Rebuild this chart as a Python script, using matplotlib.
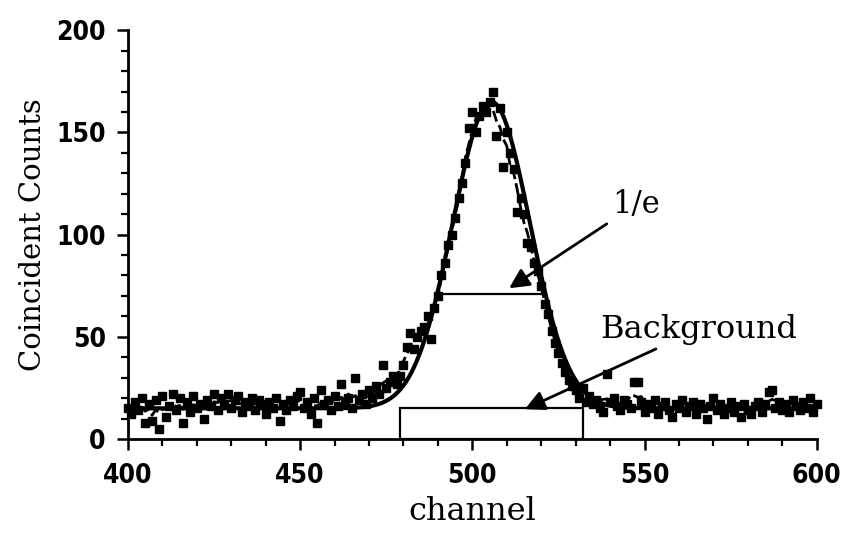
import numpy as np
import pandas as pd
import matplotlib
matplotlib.use('Agg')
import matplotlib.pyplot as plt
from matplotlib.patches import Rectangle

# channels 400..600, one reading per channel
channels = np.arange(400, 601)
counts = [
    15, 12, 18, 14, 20, 8, 17, 9, 19, 5,          # 400-409
    21, 11, 16, 22, 14, 20, 8, 18, 13, 21,        # 410-419
    15, 17, 10, 19, 16, 22, 14, 20, 17, 22,       # 420-429
    15, 19, 21, 13, 18, 16, 20, 14, 19, 17,       # 430-439
    12, 18, 15, 20, 9, 17, 14, 19, 16, 21,        # 440-449
    23, 15, 18, 12, 20, 8, 24, 17, 19, 14,        # 450-459
    21, 16, 27, 18, 20, 15, 30, 19, 22, 17,       # 460-469
    24, 20, 26, 22, 36, 25, 28, 31, 27, 31,       # 470-479
    36, 45, 52, 44, 50, 53, 55, 60, 49, 64,       # 480-489
    70, 80, 86, 95, 100, 108, 118, 125, 135, 152, # 490-499
    160, 150, 158, 163, 160, 165, 170, 148, 162, 133,  # 500-509
    150, 140, 132, 111, 118, 110, 96, 94, 86, 82, # 510-519
    75, 66, 61, 53, 47, 42, 37, 33, 29, 26,       # 520-529
    24, 20, 25, 18, 21, 17, 19, 15, 13, 32,       # 530-539
    18, 20, 16, 14, 19, 17, 15, 28, 28, 18,       # 540-549
    13, 17, 15, 19, 12, 16, 18, 14, 11, 17,       # 550-559
    15, 19, 13, 16, 18, 12, 17, 15, 10, 16,       # 560-569
    20, 14, 17, 12, 15, 18, 13, 16, 11, 17,       # 570-579
    14, 12, 16, 18, 13, 17, 23, 24, 15, 18,       # 580-589
    14, 17, 13, 19, 16, 14, 18, 15, 20, 13,       # 590-599
    17,                                           # 600
]

# gaussian fit parameters
fit_center = 505.5
fit_sigma = 11.2
fit_amp = 150
fit_bg = 15

# annotation geometry
bg_box = (479, 532, 15)          # left, right, level
efold_line = (489.5, 521.5, 71)  # left, right, level

data = pd.DataFrame({'channel': channels, 'counts': counts})
data['smooth'] = data['counts'].rolling(5, center=True, min_periods=1).mean()

xfit = np.linspace(400, 600, 801)
yfit = fit_bg + fit_amp * np.exp(-(xfit - fit_center) ** 2 / (2 * fit_sigma ** 2))

fig = plt.figure(figsize=(8.42, 5.39), dpi=100)
ax = fig.add_axes([0.152, 0.1855, 0.818, 0.7585])

ax.plot(data['channel'], data['counts'], 's', color='black', ms=6, clip_on=False)
ax.plot(data['channel'], data['smooth'], color='black', lw=2, dashes=(4, 1.5))
ax.plot(xfit, yfit, color='black', lw=3)

ax.add_patch(Rectangle((bg_box[0], 0), bg_box[1] - bg_box[0], bg_box[2],
                       fill=False, edgecolor='black', lw=1.6))
ax.plot([efold_line[0], efold_line[1]], [efold_line[2], efold_line[2]], color='black', lw=1.6)

serif = 'DejaVu Serif'
arrow = dict(arrowstyle='-|>', color='black', lw=2, mutation_scale=30)
ax.annotate('1/e', xy=(510, 73), xytext=(540.5, 107), arrowprops=arrow,
            family=serif, fontsize=22, va='bottom', ha='left')
ax.annotate('Background', xy=(514.5, 14), xytext=(537, 46), arrowprops=arrow,
            family=serif, fontsize=23, va='bottom', ha='left')

ax.set_xlim(400, 600)
ax.set_ylim(0, 200)
ax.set_xticks([400, 450, 500, 550, 600])
ax.set_xticks(np.arange(400, 601, 10), minor=True)
ax.set_yticks([0, 50, 100, 150, 200])
ax.set_yticks(np.arange(0, 201, 10), minor=True)

for s in ['top', 'right']:
    ax.spines[s].set_visible(False)
for s in ['left', 'bottom']:
    ax.spines[s].set_linewidth(2)

ax.tick_params(which='major', length=8, width=1.8, direction='out')
ax.tick_params(which='minor', length=5, width=1.6, direction='out')
ax.tick_params(axis='x', which='major', pad=9)
ax.tick_params(axis='y', which='major', pad=8)
for lab in ax.get_xticklabels() + ax.get_yticklabels():
    lab.set_fontweight('bold')
    lab.set_fontsize(19)
    lab.set_family('DejaVu Sans')
    lab.set_fontstretch('condensed')

ax.set_xlabel('channel', family=serif, fontsize=23, labelpad=5)
ax.set_ylabel('Coincident Counts', family=serif, fontsize=21, labelpad=7)

fig.savefig('out.png', dpi=100)
